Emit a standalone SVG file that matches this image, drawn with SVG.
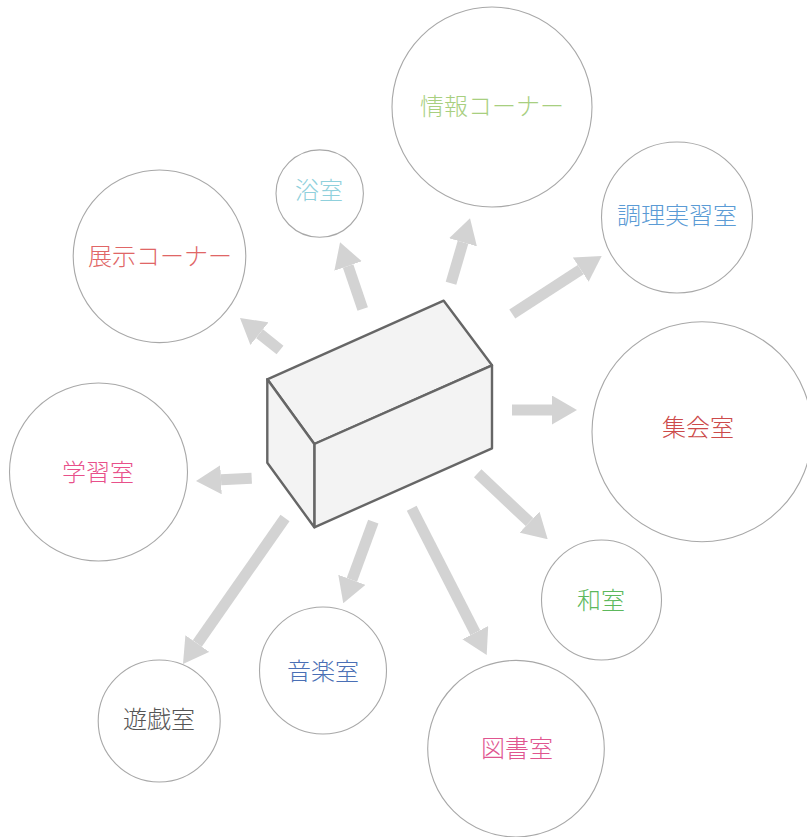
<svg xmlns="http://www.w3.org/2000/svg" width="807" height="837" viewBox="0 0 807 837">
<style>
.c{fill:#fff;stroke:#a8a8a8;stroke-width:1.1}
.t{font-family:"Noto Sans CJK JP","Noto Sans CJK SC",sans-serif;font-size:24px;font-weight:300;text-anchor:middle;dominant-baseline:central}
.a{stroke:#d3d3d3;stroke-width:11;fill:none;marker-end:url(#ah)}
.f{fill:#f3f3f3;stroke:#666;stroke-width:2.4;stroke-linejoin:round}
</style>
<defs>
<marker id="ah" markerUnits="userSpaceOnUse" markerWidth="25" markerHeight="29" viewBox="0 0 25 29" refX="0" refY="14.5" orient="auto">
<path d="M0,0 L25,14.5 L0,29 z" fill="#d3d3d3"/>
</marker>
</defs>
<g id="connectors">
<line class="a" x1="280" y1="350" x2="259.5" y2="333.6"/>
<line class="a" x1="362.7" y1="309" x2="348.1" y2="266"/>
<line class="a" x1="451" y1="283.3" x2="463" y2="242.3"/>
<line class="a" x1="512.3" y1="314" x2="580.7" y2="269.6"/>
<line class="a" x1="512" y1="410" x2="552" y2="410"/>
<line class="a" x1="251.7" y1="478.3" x2="221" y2="479.8"/>
<line class="a" x1="285" y1="518" x2="197.3" y2="643.5"/>
<line class="a" x1="373.3" y1="521.7" x2="351.9" y2="579.8"/>
<line class="a" x1="477.7" y1="473.3" x2="529.5" y2="522.1"/>
<line class="a" x1="411.7" y1="508.3" x2="475.3" y2="632.7"/>
</g>
<g id="building">
<polygon class="f" points="267.3,379.3 443.7,300.7 492,365.3 314.3,444"/>
<polygon class="f" points="314.3,444 492,365.3 492,448.3 314.3,527.3"/>
<polygon class="f" points="267.3,379.3 314.3,444 314.3,527.3 267.3,462.7"/>
</g>
<g id="n-johou"><circle class="c" cx="492" cy="107" r="100"/><text class="t" x="492" y="104" fill="#a8cf80">情報コーナー</text></g>
<g id="n-yokushitsu"><circle class="c" cx="319.7" cy="193.6" r="43.7"/><text class="t" x="319" y="188" fill="#8fd0dc">浴室</text></g>
<g id="n-chouri"><circle class="c" cx="677" cy="217.5" r="75.5"/><text class="t" x="677" y="213" fill="#5b9bd5">調理実習室</text></g>
<g id="n-tenji"><circle class="c" cx="159.5" cy="256.3" r="86.3"/><text class="t" x="160" y="254" fill="#e06666">展示コーナー</text></g>
<g id="n-gakushu"><circle class="c" cx="98.5" cy="472" r="89"/><text class="t" x="98" y="470" fill="#e8508a">学習室</text></g>
<g id="n-shukai"><circle class="c" cx="702" cy="431.7" r="110"/><text class="t" x="698" y="425" fill="#cc4a4a">集会室</text></g>
<g id="n-washitsu"><circle class="c" cx="601.5" cy="600" r="60"/><text class="t" x="601" y="598" fill="#5cb85c">和室</text></g>
<g id="n-tosho"><circle class="c" cx="516" cy="748.7" r="88.3"/><text class="t" x="517" y="746" fill="#e0558f">図書室</text></g>
<g id="n-ongaku"><circle class="c" cx="323" cy="670.5" r="63.5"/><text class="t" x="323" y="669" fill="#4a6fb5">音楽室</text></g>
<g id="n-yuugi"><circle class="c" cx="159.2" cy="721" r="61"/><text class="t" x="159" y="717" fill="#555">遊戯室</text></g>
</svg>
